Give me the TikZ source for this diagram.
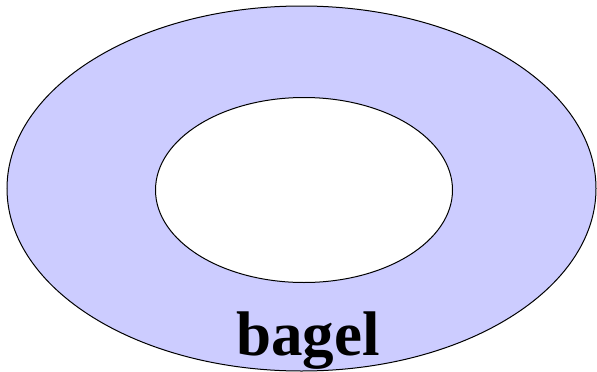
\documentclass[tikz,border=0pt]{standalone}
\usepackage{fontspec}
\setmainfont{Liberation Serif}
\usepackage{tikz}

\begin{document}
\begin{tikzpicture}[
 x=1pt,y=-1pt,
 ring/.style={draw=black,fill=blue!20,line width=1pt},
 hole/.style={draw=black,fill=white,line width=1pt},
 tag/.style={font=\fontsize{63}{63}\selectfont\bfseries,anchor=base,inner sep=0pt}
]
\useasboundingbox (0,0) rectangle (597,372);
\draw[ring] (301.5,188.5) ellipse [x radius=294.5pt, y radius=182.5pt];
\draw[hole] (304,190) ellipse [x radius=148.5pt, y radius=92.5pt];
\node[tag] (label) at (308,355) {bagel};
\end{tikzpicture}
\end{document}
